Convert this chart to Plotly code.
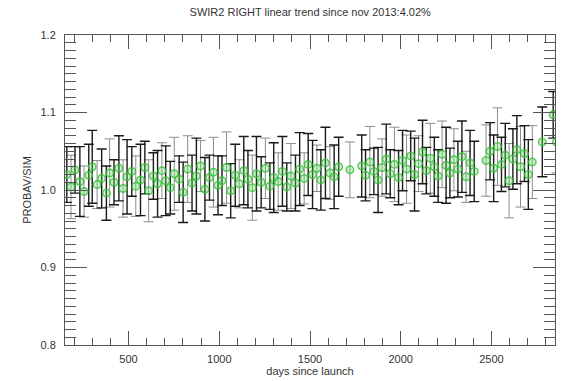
import plotly.graph_objects as go

# Day numbers of each PROBA-V / simulation comparison
days = [
    160, 183, 205, 232, 255, 281, 300, 327, 352, 378,
    396, 420, 447, 470, 492, 518, 540, 566, 590, 611,
    637, 660, 684, 705,
    730, 752, 779, 801, 826, 850, 874, 897, 921, 946,
    968, 993, 1015, 1040, 1063, 1088, 1110, 1135, 1158, 1182,
    1205, 1231, 1254, 1279, 1300,
    1325, 1348, 1372, 1395, 1420, 1443, 1468, 1490, 1514, 1538,
    1560, 1585, 1610, 1633, 1658,
    1720,
    1785, 1806, 1830, 1852, 1875, 1897, 1920, 1942, 1965, 1988,
    2010, 2032, 2055, 2076, 2098, 2120, 2141, 2163, 2185, 2206,
    2228, 2250, 2271, 2293, 2315, 2337, 2360, 2382, 2405,
    2470, 2492, 2512, 2533, 2555, 2576, 2597, 2618, 2640, 2660,
    2682, 2703, 2725,
    2780, 2840, 2858,
]

# Ratio PROBAV/SIM
ratio = [
    1.020, 1.004, 1.026, 1.011, 0.998, 1.019, 1.030, 1.007, 1.015, 0.996,
    1.022, 1.010, 1.028, 1.002, 1.017, 1.024, 1.005, 1.013, 1.029, 0.999,
    1.018, 1.008, 1.025, 1.012,
    1.003, 1.021, 1.014, 0.997, 1.027, 1.009, 1.018, 1.031, 1.001, 1.016,
    1.023, 1.006, 1.012, 1.029, 0.999, 1.019, 1.008, 1.025, 1.014, 1.003,
    1.021, 1.010, 1.028, 1.005, 1.016,
    1.011, 1.024, 1.004, 1.018, 1.009, 1.027, 1.015, 1.033, 1.020, 1.028,
    1.013, 1.035, 1.022, 1.017, 1.030,
    1.026,
    1.031, 1.019, 1.036, 1.024, 1.013, 1.029, 1.040, 1.021, 1.033, 1.016,
    1.038, 1.027, 1.044, 1.020, 1.034, 1.049, 1.025, 1.041, 1.030, 1.018,
    1.046, 1.032, 1.022, 1.039, 1.027, 1.043, 1.017, 1.035, 1.024,
    1.038, 1.050, 1.028, 1.056, 1.033, 1.045, 1.012, 1.040, 1.052, 1.030,
    1.047, 1.020, 1.036,
    1.062, 1.097, 1.062,
]

# One-sigma uncertainty of each ratio
sigma = [
    0.036, 0.041, 0.030, 0.045, 0.033, 0.040, 0.047, 0.031, 0.038, 0.035,
    0.044, 0.029, 0.042, 0.037, 0.048, 0.032, 0.039, 0.046, 0.034, 0.040,
    0.030, 0.043, 0.036, 0.045,
    0.034, 0.047, 0.030, 0.039, 0.043, 0.036, 0.049, 0.033, 0.041, 0.029,
    0.045, 0.038, 0.032, 0.046, 0.035, 0.040, 0.031, 0.044, 0.037, 0.042,
    0.048, 0.033, 0.039, 0.030, 0.045,
    0.037, 0.045, 0.031, 0.042, 0.036, 0.047, 0.033, 0.040, 0.044, 0.030,
    0.039, 0.046, 0.034, 0.041, 0.038,
    0.036,
    0.040, 0.033, 0.046, 0.030, 0.042, 0.037, 0.045, 0.031, 0.048, 0.035,
    0.039, 0.044, 0.032, 0.047, 0.036, 0.041, 0.030, 0.045, 0.038, 0.034,
    0.043, 0.049, 0.032, 0.040, 0.036, 0.046, 0.033, 0.042, 0.039,
    0.046, 0.037, 0.043, 0.050, 0.035, 0.041, 0.048, 0.039, 0.044, 0.052,
    0.036, 0.045, 0.047,
    0.045, 0.030, 0.040,
]

title_text = "SWIR2 RIGHT linear trend since nov 2013:4.02%"
x_title = "days since launch"
y_title = "PROBAV/SIM"

X_RANGE = [150, 2850]
Y_RANGE = [0.8, 1.2]

FONT = "Liberation Sans, Arial, sans-serif"
TXT = "#333333"
AX = "#555555"

fig = go.Figure()

# error bars in two tones (dark / light) so overlapping bars stay readable
groups = {"dark": [], "light": []}
for i in range(len(days)):
    groups["light" if i % 3 == 1 else "dark"].append(i)

for name, color, width in (("light", "#8c8c8c", 1.0), ("dark", "#1a1a1a", 1.4)):
    idx = groups[name]
    fig.add_trace(go.Scatter(
        x=[days[i] for i in idx],
        y=[ratio[i] for i in idx],
        mode="markers",
        marker=dict(size=1, color="rgba(0,0,0,0)"),
        error_y=dict(type="data", array=[sigma[i] for i in idx],
                     color=color, thickness=width, width=5),
        showlegend=False, hoverinfo="skip",
    ))

fig.add_trace(go.Scatter(
    x=days, y=ratio, mode="markers",
    marker=dict(symbol="circle", size=7.5,
                color="rgba(110,215,110,0.35)",
                line=dict(color="rgba(50,195,50,0.8)", width=1.5)),
    showlegend=False,
))

# empty trace that carries the overlay axes used for the minor ticks
fig.add_trace(go.Scatter(x=[], y=[], xaxis="x2", yaxis="y2",
                         showlegend=False, hoverinfo="skip"))

axis_common = dict(
    showgrid=False, zeroline=False,
    showline=True, linecolor=AX, linewidth=1, mirror="allticks",
    ticks="inside", tickcolor=AX, tickwidth=1,
    tickfont=dict(family=FONT, size=11, color=TXT),
)

fig.update_layout(
    xaxis=dict(
        **axis_common,
        range=X_RANGE, dtick=500, tick0=0, ticklen=14,
        title=dict(text=x_title, font=dict(family=FONT, size=11, color=TXT), standoff=2),
        ticklabelstandoff=4,
    ),
    yaxis=dict(
        **axis_common,
        range=Y_RANGE, dtick=0.1, tick0=0.8, ticklen=22, tickformat=".1f",
        title=dict(text=y_title, font=dict(family=FONT, size=11, color=TXT), standoff=6),
        ticklabelstandoff=6,
    ),
    # minor tick marks: 100 days and 0.01
    xaxis2=dict(
        overlaying="x", anchor="y2", side="bottom",
        range=X_RANGE, dtick=100, tick0=0, ticks="inside", ticklen=7,
        tickcolor=AX, tickwidth=1, showticklabels=False,
        showline=False, mirror="allticks", showgrid=False, zeroline=False,
    ),
    yaxis2=dict(
        overlaying="y", anchor="x2", side="left",
        range=Y_RANGE, dtick=0.01, tick0=0.8, ticks="inside", ticklen=11,
        tickcolor=AX, tickwidth=1, showticklabels=False,
        showline=False, mirror="allticks", showgrid=False, zeroline=False,
    ),
    width=562, height=381,
    margin=dict(l=65, r=7, t=35, b=36),
    paper_bgcolor="white", plot_bgcolor="white",
    title=dict(text=title_text, x=0.552, xanchor="center", y=0.968, yanchor="middle",
               font=dict(family=FONT, size=11, color=TXT)),
)

fig.write_html("out.html")
